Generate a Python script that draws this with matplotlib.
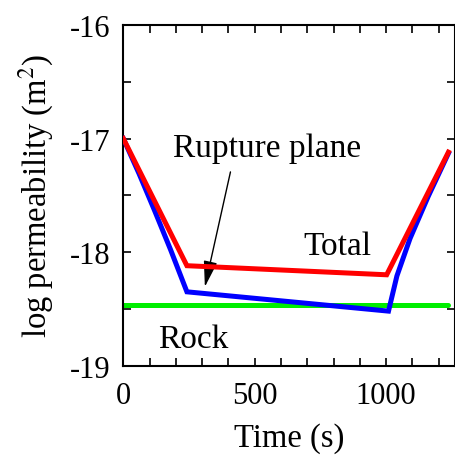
import numpy as np
import matplotlib
matplotlib.use("Agg")
import matplotlib.pyplot as plt
from matplotlib.ticker import MultipleLocator

# Values
t_total = [0, 242, 1002, 1237]
k_total = [-17.0, -18.12, -18.20, -17.12]

t_rupture = [0, 60, 120, 180, 242, 1009, 1041, 1091, 1160, 1237]
k_rupture = [-17.0, -17.31, -17.64, -17.98, -18.35, -18.52, -18.21, -17.88, -17.51, -17.13]

t_rock = [0, 1237]
k_rock = [-18.47, -18.47]

plt.rcParams["font.family"] = ["Liberation Serif", "DejaVu Serif"]
plt.rcParams["mathtext.fontset"] = "stix"
plt.rcParams["axes.unicode_minus"] = False

fig = plt.figure(figsize=(4.55, 4.56), dpi=100)
ax = fig.add_axes([0.271, 0.196, 0.729, 0.747])

ax.plot(t_rock, k_rock, color="#00ee00", lw=3.6, solid_capstyle="round", zorder=2)
ax.plot(t_rupture, k_rupture, color="blue", lw=3.6, solid_joinstyle="miter", zorder=3)
ax.plot(t_total, k_total, color="red", lw=3.6, solid_joinstyle="miter", zorder=4)

ax.set_xlim(0, 1262)
ax.set_ylim(-19, -16)
ax.xaxis.set_major_locator(MultipleLocator(500))
ax.xaxis.set_minor_locator(MultipleLocator(100))
ax.yaxis.set_major_locator(MultipleLocator(1))
ax.yaxis.set_minor_locator(MultipleLocator(0.5))
ax.tick_params(which="both", direction="in", top=True, right=True,
               length=6, width=1.2, labelsize=22)
ax.tick_params(axis="x", pad=11)
ax.tick_params(axis="y", pad=9)
for s in ax.spines.values():
    s.set_linewidth(1.5)

ax.set_xlabel("Time (s)", fontsize=23.5, labelpad=9)
ax.set_ylabel("log permeability (m$^2$)", fontsize=23.5, labelpad=10)

ax.annotate("", xy=(308, -18.33), xytext=(410, -17.27),
            arrowprops=dict(arrowstyle="-|>,head_length=1.6,head_width=0.42",
                            color="black", lw=1))
ax.text(546, -17.08, "Rupture plane", fontsize=24, ha="center", va="center")
ax.text(813, -17.94, "Total", fontsize=24, ha="center", va="center")
ax.text(265, -18.76, "Rock", fontsize=24, ha="center", va="center")

fig.savefig("out.png", dpi=100)
